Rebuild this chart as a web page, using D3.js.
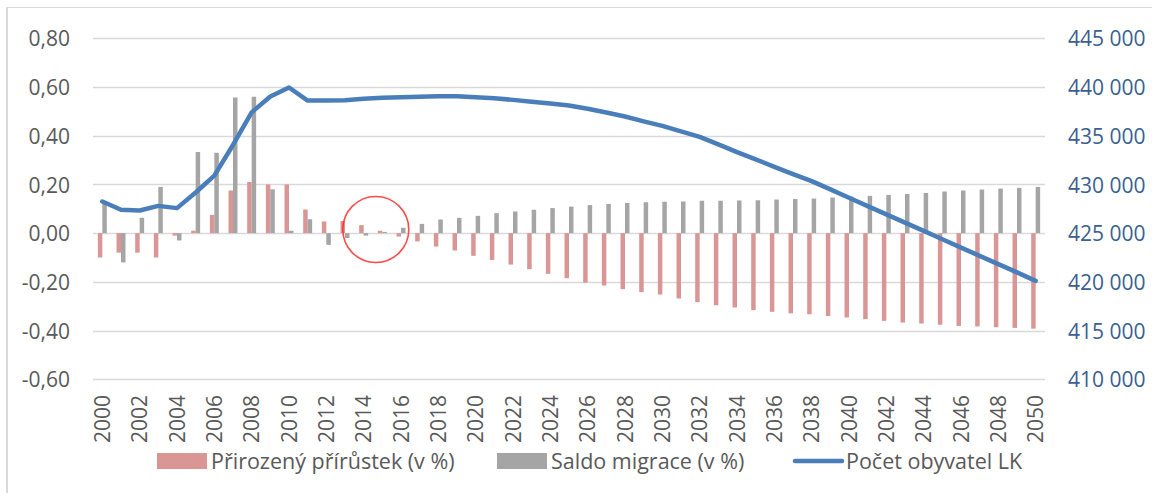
<!DOCTYPE html>
<html>
<head>
<meta charset="utf-8">
<script src="https://cdn.jsdelivr.net/npm/d3@7"></script>
<style>
  body { margin: 0; background: #fff; }
  svg { display: block; }
  text { font-family: "Open Sans", "Noto Sans", sans-serif; }
</style>
</head>
<body>
<svg id="chart" width="1152" height="493"></svg>
<script>
// ---------- data ----------
const years = [2000,2001,2002,2003,2004,2005,2006,2007,2008,2009,2010,2011,2012,2013,2014,2015,2016,2017,2018,2019,
  2020,2021,2022,2023,2024,2025,2026,2027,2028,2029,2030,2031,2032,2033,2034,2035,2036,2037,2038,2039,
  2040,2041,2042,2043,2044,2045,2046,2047,2048,2049,2050];

const naturalIncrease = [-0.10,-0.08,-0.08,-0.10,-0.01,0.01,0.075,0.175,0.21,0.20,0.20,0.097,0.048,0.05,0.033,0.01,-0.014,-0.034,-0.055,-0.071,
  -0.093,-0.11,-0.129,-0.148,-0.167,-0.185,-0.203,-0.215,-0.23,-0.242,-0.252,-0.268,-0.283,-0.296,-0.305,-0.316,-0.323,-0.329,-0.333,-0.34,
  -0.346,-0.353,-0.36,-0.367,-0.371,-0.376,-0.381,-0.383,-0.386,-0.389,-0.392];

const netMigration = [0.125,-0.12,0.063,0.19,-0.03,0.333,0.33,0.557,0.56,0.18,0.01,0.057,-0.048,-0.02,-0.01,0.005,0.022,0.038,0.056,0.063,
  0.071,0.082,0.089,0.096,0.103,0.109,0.115,0.12,0.124,0.127,0.129,0.13,0.133,0.133,0.134,0.135,0.138,0.14,0.142,0.146,
  0.15,0.153,0.157,0.161,0.165,0.171,0.175,0.179,0.183,0.186,0.19];

const population = [428250,427400,427320,427800,427570,429170,430900,434050,437400,439020,439950,438610,438610,438630,438790,438890,438960,439010,439040,439040,
  438960,438840,438680,438480,438300,438100,437770,437380,436970,436480,436010,435450,434890,434120,433310,432580,431810,431060,430340,429490,
  428630,427780,426930,426080,425230,424370,423520,422670,421820,420970,420100];

const leftTicks = [-0.6,-0.4,-0.2,0,0.2,0.4,0.6,0.8];
const rightTicks = [410000,415000,420000,425000,430000,435000,440000,445000];
const xTickYears = [2000,2002,2004,2006,2008,2010,2012,2014,2016,2018,2020,2022,2024,2026,2028,2030,2032,2034,2036,2038,2040,2042,2044,2046,2048,2050];

const seriesNames = ["Přirozený přírůstek (v %)", "Saldo migrace (v %)", "Počet obyvatel LK"];
const seriesKeys = ["nat", "mig"];

// ---------- styles ----------
const colNat = "#D99694";
const colMig = "#A5A5A5";
const colLine = "#4A7EBB";
const colGrid = "#D9D9D9";
const colLeftText = "#595959";
const colRightText = "#3A5F91";

const loc = d3.formatLocale({decimal: ",", thousands: "\u00a0", grouping: [3], currency: ["", ""], minus: "-"});
const fmtLeft = loc.format(".2f");
const fmtRight = loc.format(",.0f");

const svg = d3.select("#chart");
const W = 1152, H = 493;
const plot = {left: 93, right: 1045, top: 38.3, bottom: 379.3};

// chart border (only left and top edges are visible in the frame)
svg.append("line").attr("x1", 7).attr("x2", 7).attr("y1", 7.5).attr("y2", H)
  .attr("stroke", colGrid).attr("stroke-width", 2);
svg.append("line").attr("x1", 6).attr("x2", W).attr("y1", 7.5).attr("y2", 7.5)
  .attr("stroke", colGrid).attr("stroke-width", 1);

const x0 = d3.scaleBand().domain(years).range([plot.left, plot.right]).paddingInner(0.52).paddingOuter(0.26).align(0.5);
const x1 = d3.scaleBand().domain(seriesKeys).range([0, x0.bandwidth()]).padding(0);
const yL = d3.scaleLinear().domain([-0.6, 0.8]).range([plot.bottom, plot.top]);
const yR = d3.scaleLinear().domain([410000, 445000]).range([plot.bottom, plot.top]);

const cx = y => x0(y) + x0.bandwidth() / 2;

// gridlines
svg.append("g").selectAll("line").data(leftTicks).join("line")
  .attr("x1", plot.left).attr("x2", plot.right)
  .attr("y1", d => Math.round(yL(d)) + 0.5).attr("y2", d => Math.round(yL(d)) + 0.5)
  .attr("stroke", colGrid).attr("stroke-width", 1.3);

// left axis labels
const axL = d3.axisLeft(yL).tickValues(leftTicks).tickFormat(fmtLeft).tickSize(0).tickPadding(0);
const gL = svg.append("g").attr("transform", `translate(70,0)`).call(axL);
gL.select(".domain").remove();
gL.selectAll("text").attr("fill", colLeftText).attr("font-size", 21)
  .attr("font-family", '"Open Sans", sans-serif').attr("dy", "0.36em").attr("x", 0);

// right axis labels
const axR = d3.axisRight(yR).tickValues(rightTicks).tickFormat(fmtRight).tickSize(0).tickPadding(0);
const gR = svg.append("g").attr("transform", `translate(1068,0)`).call(axR);
gR.select(".domain").remove();
gR.selectAll("text").attr("fill", colRightText).attr("font-size", 21)
  .attr("font-family", '"Open Sans", sans-serif').attr("dy", "0.36em").attr("x", 0);

// x labels (rotated)
svg.append("g").selectAll("text").data(xTickYears).join("text")
  .attr("transform", d => `translate(${cx(d)},395) rotate(-90)`)
  .attr("text-anchor", "end").attr("dy", "0.36em")
  .attr("fill", colLeftText).attr("font-size", 21)
  .text(d => d);

// bars
const rows = years.map((y, i) => ({year: y, nat: naturalIncrease[i], mig: netMigration[i]}));
const gBars = svg.append("g");
gBars.selectAll("g").data(rows).join("g")
  .attr("transform", d => `translate(${x0(d.year)},0)`)
  .selectAll("rect").data(d => seriesKeys.map(k => ({key: k, value: d[k]}))).join("rect")
  .attr("x", d => x1(d.key))
  .attr("width", x1.bandwidth())
  .attr("y", d => yL(Math.max(0, d.value)))
  .attr("height", d => Math.abs(yL(d.value) - yL(0)))
  .attr("fill", d => d.key === "nat" ? colNat : colMig);

// population line
const line = d3.line().x((d, i) => cx(years[i])).y(d => yR(d));
svg.append("path").datum(population)
  .attr("d", line).attr("fill", "none").attr("stroke", colLine)
  .attr("stroke-width", 4.5).attr("stroke-linejoin", "round").attr("stroke-linecap", "round");

// red annotation circle
const circX = cx(2014) + 0.65 * x0.step();
svg.append("circle").attr("cx", circX).attr("cy", yL(0.015)).attr("r", 33)
  .attr("fill", "none").attr("stroke", "#FF2A2A").attr("stroke-opacity", 0.85).attr("stroke-width", 1.6);

// legend
const legY = 461;
const lg = svg.append("g");
lg.append("rect").attr("x", 157).attr("y", legY - 8).attr("width", 50).attr("height", 16).attr("fill", colNat);
lg.append("text").attr("x", 211).attr("y", legY).attr("dy", "0.36em").attr("font-size", 21.5).attr("fill", colLeftText).text(seriesNames[0]);
lg.append("rect").attr("x", 497).attr("y", legY - 8).attr("width", 50).attr("height", 16).attr("fill", colMig);
lg.append("text").attr("x", 551).attr("y", legY).attr("dy", "0.36em").attr("font-size", 21.5).attr("fill", colLeftText).text(seriesNames[1]);
lg.append("line").attr("x1", 795).attr("x2", 842).attr("y1", legY).attr("y2", legY)
  .attr("stroke", colLine).attr("stroke-width", 4.5).attr("stroke-linecap", "round");
lg.append("text").attr("x", 846).attr("y", legY).attr("dy", "0.36em").attr("font-size", 21.5).attr("fill", colLeftText).text(seriesNames[2]);
</script>
</body>
</html>
